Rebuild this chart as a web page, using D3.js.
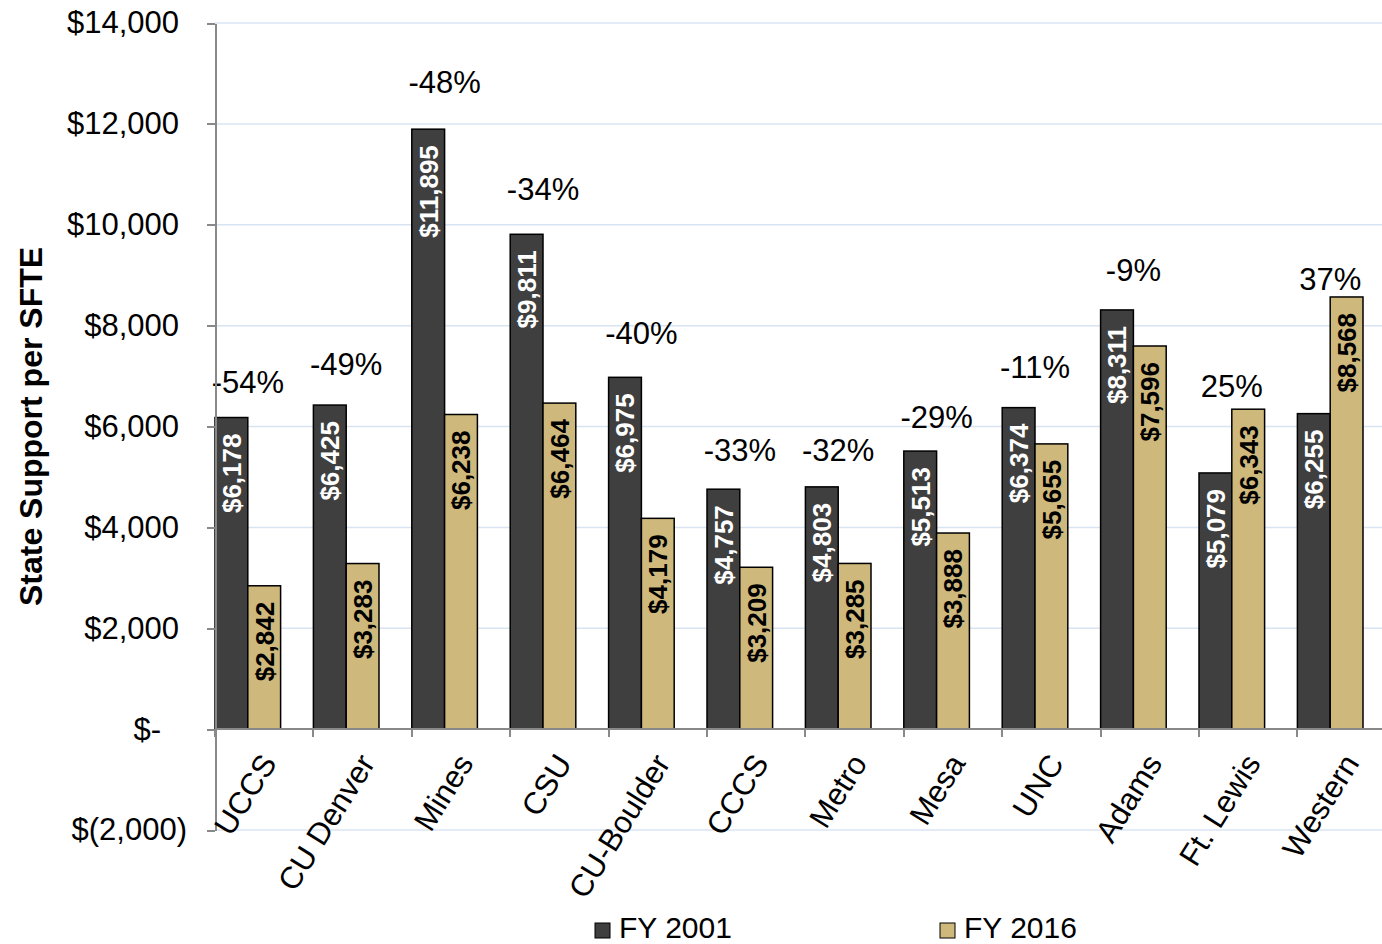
<!DOCTYPE html>
<html lang="en">
<head>
    <meta charset="UTF-8">
    <title>State Support per SFTE</title>
    <script src="https://d3js.org/d3.v7.min.js"></script>
</head>
<body style="margin:0">
<style>
    svg {
        font-family: "Liberation Sans", Arial, sans-serif;
        background: #fff;
    }
    .grid line {
        stroke: #d9e4f3;
        stroke-width: 1.5;
    }
    .axis path,
    .axis line {
        stroke: #898989;
        stroke-width: 2;
        shape-rendering: crispEdges;
    }
    .axis text {
        font-size: 31px;
        fill: #000;
    }
</style>

<div id="chart"></div>

<script>
    // data
    var categories = ["UCCS", "CU Denver", "Mines", "CSU", "CU-Boulder", "CCCS",
        "Metro", "Mesa", "UNC", "Adams", "Ft. Lewis", "Western"];
    var series = ["FY 2001", "FY 2016"];
    var fy2001 = [6178, 6425, 11895, 9811, 6975, 4757, 4803, 5513, 6374, 8311, 5079, 6255];
    var fy2016 = [2842, 3283, 6238, 6464, 4179, 3209, 3285, 3888, 5655, 7596, 6343, 8568];
    var pctChange = ["-54%", "-49%", "-48%", "-34%", "-40%", "-33%",
        "-32%", "-29%", "-11%", "-9%", "25%", "37%"];
    // height (in $) of the hidden label series that carries the % change text
    var pctLabelAt = [6890, 7250, 12830, 10710, 7850, 5530, 5530, 6190, 7180, 9100, 6800, 8920];
    var yTicks = [-2000, 0, 2000, 4000, 6000, 8000, 10000, 12000, 14000];

    var colors = {"FY 2001": "#3f3f3f", "FY 2016": "#cfb87c"};
    var labelColors = {"FY 2001": "#fff", "FY 2016": "#000"};

    var W = 1382, H = 944;
    var plot = {left: 215, top: 23, bottom: 830, right: 215 + 12 * 98.4};

    var svg = d3.select("#chart").append("svg")
        .attr("width", W)
        .attr("height", H);

    var y = d3.scaleLinear().domain([-2000, 14000]).range([plot.bottom, plot.top]);
    var x = d3.scaleBand().domain(categories).range([plot.left, plot.right]).padding(0);
    // third slot of each band is the hidden label series
    var xs = d3.scaleBand().domain(series).range([0, x.bandwidth() * 2 / 3]).padding(0);

    var rows = categories.map(function (c, i) {
        return {cat: c, "FY 2001": fy2001[i], "FY 2016": fy2016[i], pct: pctChange[i], at: pctLabelAt[i]};
    });

    // gridlines
    svg.append("g").attr("class", "grid")
        .selectAll("line").data(yTicks.filter(function (d) { return d !== 0; })).enter().append("line")
        .attr("x1", plot.left).attr("x2", W)
        .attr("y1", function (d) { return y(d); })
        .attr("y2", function (d) { return y(d); });

    // bars
    var groups = svg.append("g").selectAll("g").data(rows).enter().append("g")
        .attr("transform", function (d) { return "translate(" + x(d.cat) + ",0)"; });

    groups.selectAll("rect").data(function (d) {
        return series.map(function (s) { return {s: s, v: d[s]}; });
    }).enter().append("rect")
        .attr("x", function (d) { return xs(d.s); })
        .attr("width", xs.bandwidth())
        .attr("y", function (d) { return y(d.v); })
        .attr("height", function (d) { return y(0) - y(d.v); })
        .attr("fill", function (d) { return colors[d.s]; })
        .attr("stroke", "#000")
        .attr("stroke-width", 1.5);

    // value labels inside the bars
    var money = d3.format(",");
    groups.selectAll("text.val").data(function (d) {
        return series.map(function (s) { return {s: s, v: d[s]}; });
    }).enter().append("text")
        .attr("class", "val")
        .attr("transform", function (d) {
            return "translate(" + (xs(d.s) + xs.bandwidth() / 2) + "," + (y(d.v) + 16) + ") rotate(-90)";
        })
        .attr("text-anchor", "end")
        .attr("dy", "0.36em")
        .style("font-size", "26px")
        .style("font-weight", "bold")
        .attr("fill", function (d) { return labelColors[d.s]; })
        .text(function (d) { return "$" + money(d.v); });

    // % change labels
    groups.append("text")
        .attr("x", xs.bandwidth())
        .attr("y", function (d) { return y(d.at); })
        .attr("dy", "0.36em")
        .attr("text-anchor", "middle")
        .style("font-size", "31px")
        .text(function (d) { return d.pct; });

    // y axis
    var yAxis = svg.append("g").attr("class", "axis")
        .attr("transform", "translate(" + plot.left + ",0)")
        .call(d3.axisLeft(y).tickValues(yTicks).tickSize(8).tickSizeOuter(0).tickPadding(20)
            .tickFormat(function (v) {
                if (v < 0) return "$(" + money(-v) + ")";
                if (v === 0) return "$-";
                return "$" + money(v);
            }));
    yAxis.selectAll(".tick text")
        .attr("dx", function (v) { return v < 0 ? 0 : (v === 0 ? -26 : -8); });

    // x axis line and category ticks
    var xAxis = svg.append("g").attr("class", "axis");
    xAxis.append("line")
        .attr("x1", plot.left).attr("x2", plot.right)
        .attr("y1", y(0)).attr("y2", y(0));
    xAxis.selectAll("line.tk").data(categories).enter().append("line")
        .attr("class", "tk")
        .attr("x1", function (d) { return x(d); })
        .attr("x2", function (d) { return x(d); })
        .attr("y1", y(0)).attr("y2", y(0) + 8);

    xAxis.selectAll("text").data(categories).enter().append("text")
        .attr("transform", function (d) {
            return "translate(" + (x(d) + x.bandwidth() / 2 + 4) + "," + (y(0) + 28) + ") rotate(-58)";
        })
        .attr("text-anchor", "end")
        .attr("dy", "0.36em")
        .text(function (d) { return d; });

    // y axis title
    svg.append("text")
        .attr("transform", "translate(30," + ((plot.top + plot.bottom) / 2) + ") rotate(-90)")
        .attr("text-anchor", "middle")
        .attr("dy", "0.36em")
        .style("font-size", "32px")
        .style("font-weight", "bold")
        .text("State Support per SFTE");

    // legend
    var legendX = [595, 940];
    var legend = svg.append("g").selectAll("g").data(series).enter().append("g")
        .attr("transform", function (d, i) { return "translate(" + legendX[i] + ",923)"; });
    legend.append("rect")
        .attr("width", 15).attr("height", 15)
        .attr("fill", function (d) { return colors[d]; })
        .attr("stroke", "#000").attr("stroke-width", 1);
    legend.append("text")
        .attr("x", 24).attr("y", 15)
        .style("font-size", "30px")
        .text(function (d) { return d; });
</script>
</body>
</html>
